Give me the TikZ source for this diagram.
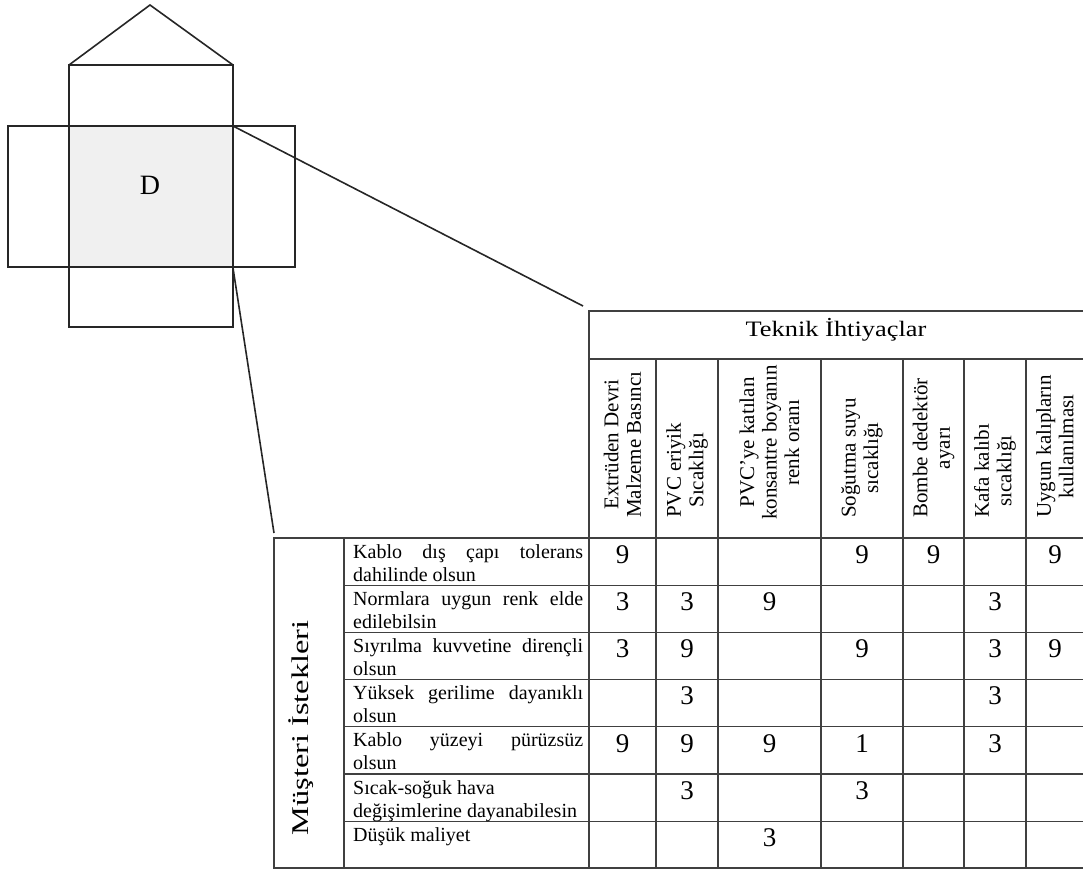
\documentclass[tikz,border=0pt]{standalone}
\usepackage{fontspec}
\setmainfont{Liberation Serif}
\usetikzlibrary{positioning}
\newcommand{\jline}[1]{\makebox[230pt][s]{#1}}
\newcommand{\wide}[2]{\scalebox{#1}[1]{#2}}

\begin{document}
\begin{tikzpicture}[
    x=1pt, y=-1pt,
    edge/.style={line width=1.6pt, draw=black!85},
    grid/.style={line width=1.3pt, draw=black!75},
    need/.style={anchor=north west, inner sep=0pt, align=left, font=\fontsize{20}{23}\selectfont},
    tech/.style={rotate=90, anchor=west, inner sep=0pt, align=center, font=\fontsize{21}{22.5}\selectfont},
    score/.style={inner sep=0pt, font=\fontsize{27}{27}\selectfont}
]
    \useasboundingbox (0,0) rectangle (1083,870);

    % house sketch
    \fill[gray!12] (69,126) rectangle (233,267);
    \draw[edge] (69,65) -- (150,5) -- (233,65);
    \draw[edge] (69,65) rectangle (233,327);
    \draw[edge] (8,126) rectangle (295,267);
    \node[font=\fontsize{28}{28}\selectfont] (dlabel) at (150,185) {D};
    \coordinate (dTR) at (233,126);
    \coordinate (dBR) at (233,268);

    % zoom lines
    \coordinate (zoomA) at (583,306);
    \coordinate (zoomB) at (274,533);
    \draw[edge] (dTR) -- (zoomA);
    \draw[edge] (dBR) -- (zoomB);

    % table grid
    \draw[grid] (589,311) rectangle (1085,359);
    \draw[grid] (589,359) -- (589,868);
    \foreach \x in {656,718,821,903,964,1026}
        \draw[grid] (\x,359) -- (\x,868);
    \draw[grid] (274,538) rectangle (1085,868);
    \draw[grid] (344,538) -- (344,868);
    \foreach \k in {1,...,6}
        \draw[grid] (344,538+47.2*\k) -- (1085,538+47.2*\k);

    % headings
    \node[font=\fontsize{22}{22}\selectfont] (teknik) at (836,330) {\wide{1.2}{Teknik İhtiyaçlar}};
    \node[rotate=90, inner sep=0pt, font=\fontsize{24}{24}\selectfont] (musteri) at (301,728) {\wide{1.35}{Müşteri İstekleri}};

    \node[tech] (h1) at (622.5,518) {Extrüden Devri\\Malzeme Basıncı};
    \node[tech] (h2) at (687,518) {PVC eriyik\\Sıcaklığı};
    \node[tech] (h3) at (769.5,520) {PVC'ye katılan\\konsantre boyanın\\renk oranı};
    \node[tech] (h4) at (862,518) {Soğutma suyu\\sıcaklığı};
    \node[tech] (h5) at (933.5,518) {Bombe dedektör\\ayarı};
    \node[tech] (h6) at (995,518) {Kafa kalıbı\\sıcaklığı};
    \node[tech] (h7) at (1055,518) {Uygun kalıpların\\kullanılması};

    % customer needs
    \node[need] (n1) at (353,544) {\jline{Kablo dış çapı tolerans}\\dahilinde olsun};
    \node[need] (n2) at (353,591.2) {\jline{Normlara uygun renk elde}\\edilebilsin};
    \node[need] (n3) at (353,638.4) {\jline{Sıyrılma kuvvetine dirençli}\\olsun};
    \node[need] (n4) at (353,685.6) {\jline{Yüksek gerilime dayanıklı}\\olsun};
    \node[need] (n5) at (353,732.8) {\jline{Kablo yüzeyi pürüzsüz}\\olsun};
    \node[need] (n6) at (353,780) {Sıcak-soğuk hava\\değişimlerine dayanabilesin};
    \node[need] (n7) at (353,827.2) {Düşük maliyet};

    % relationship scores
    \foreach \k in {1,...,7}
        \coordinate (r\k) at (0,538+47.2*\k-47.2+16.5);
    \foreach \r/\c/\v in {1/1/9, 1/4/9, 1/5/9, 1/7/9,
                          2/1/3, 2/2/3, 2/3/9, 2/6/3,
                          3/1/3, 3/2/9, 3/4/9, 3/6/3, 3/7/9,
                          4/2/3, 4/6/3,
                          5/1/9, 5/2/9, 5/3/9, 5/4/1, 5/6/3,
                          6/2/3, 6/4/3,
                          7/3/3}
        \node[score] at (h\c |- r\r) {\v};
\end{tikzpicture}
\end{document}
